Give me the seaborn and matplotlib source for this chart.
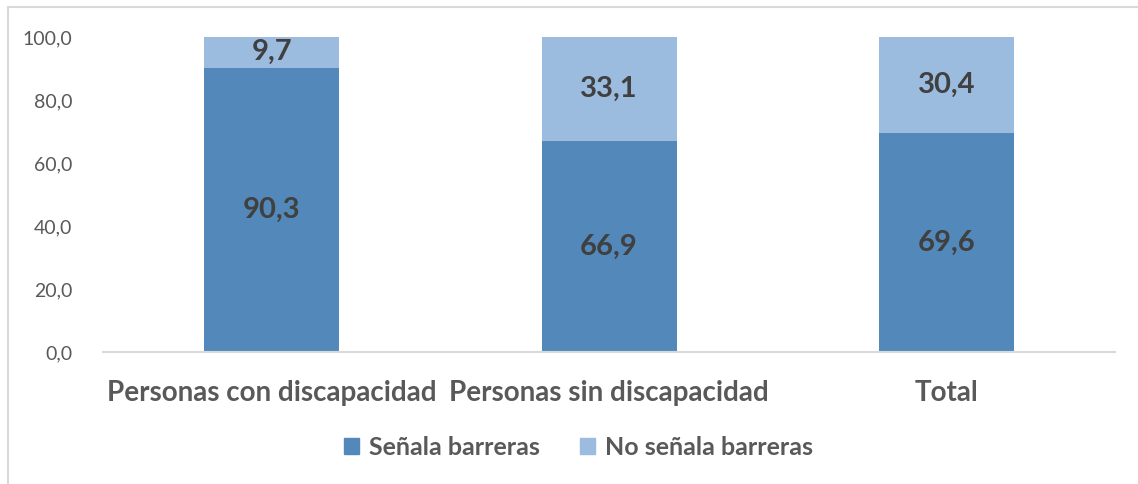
import matplotlib
matplotlib.use("Agg")
import matplotlib.pyplot as plt
import seaborn as sns
import pandas as pd
from matplotlib.patches import Patch

# data
categorias = ["Personas con discapacidad", "Personas sin discapacidad", "Total"]
senala = [90.3, 66.9, 69.6]
no_senala = [9.7, 33.1, 30.4]
series = ["Señala barreras", "No señala barreras"]

col_dark = "#5389BA"
col_light = "#9BBBDF"
txt = "#404040"

sns.set_theme(style="white")
plt.rcParams["font.family"] = ["Lato", "DejaVu Sans"]

df = pd.DataFrame({"cat": categorias, "senala": senala, "no": no_senala})
df["total"] = df["senala"] + df["no"]

fig = plt.figure(figsize=(11.38, 4.84), dpi=100)
ax = fig.add_axes([0.0905, 0.2727, 0.8895, 0.6509])

# stacked: light total bar below, dark bar on top
sns.barplot(data=df, x="cat", y="total", color=col_light, width=0.4,
            saturation=1, ax=ax, linewidth=0)
sns.barplot(data=df, x="cat", y="senala", color=col_dark, width=0.4,
            saturation=1, ax=ax, linewidth=0)

# data labels
for i, row in df.iterrows():
    ax.text(i, row["senala"] / 2, f"{row['senala']:.1f}".replace(".", ","),
            ha="center", va="center", fontsize=21, fontweight="bold", color=txt)
    ax.text(i, row["senala"] + row["no"] / 2, f"{row['no']:.1f}".replace(".", ","),
            ha="center", va="center", fontsize=21, fontweight="bold", color=txt)

ax.set_xlim(-0.5, 2.5)
ax.set_ylim(0, 100)
ax.set_yticks(range(0, 101, 20))
ax.set_yticklabels([f"{v},0" for v in range(0, 101, 20)], fontsize=14, color="#595959")
ax.set_xticks(range(3))
ax.set_xticklabels(categorias, fontsize=20, fontweight="bold", color="#595959")
ax.tick_params(axis="y", length=0, pad=22)
ax.tick_params(axis="x", length=0, pad=20)
ax.set_xlabel("")
ax.set_ylabel("")
for s in ["top", "right", "left"]:
    ax.spines[s].set_visible(False)
ax.spines["bottom"].set_color("#D9D9D9")
ax.spines["bottom"].set_linewidth(1.5)

handles = [Patch(color=col_dark), Patch(color=col_light)]
leg = fig.legend(handles, series, loc="center", bbox_to_anchor=(0.508, 0.075),
                 ncol=2, frameon=False, handlelength=0.6, handleheight=0.6,
                 columnspacing=1.6, handletextpad=0.4,
                 prop={"size": 18, "weight": "bold", "family": ["Lato", "DejaVu Sans"]})
for t in leg.get_texts():
    t.set_color("#595959")

# chart border
border = plt.Rectangle((0.007, -0.1), 1.1, 1.085, transform=fig.transFigure,
                       fill=False, edgecolor="#D9D9D9", linewidth=1.5)
fig.add_artist(border)

fig.savefig("out.png", dpi=100)
